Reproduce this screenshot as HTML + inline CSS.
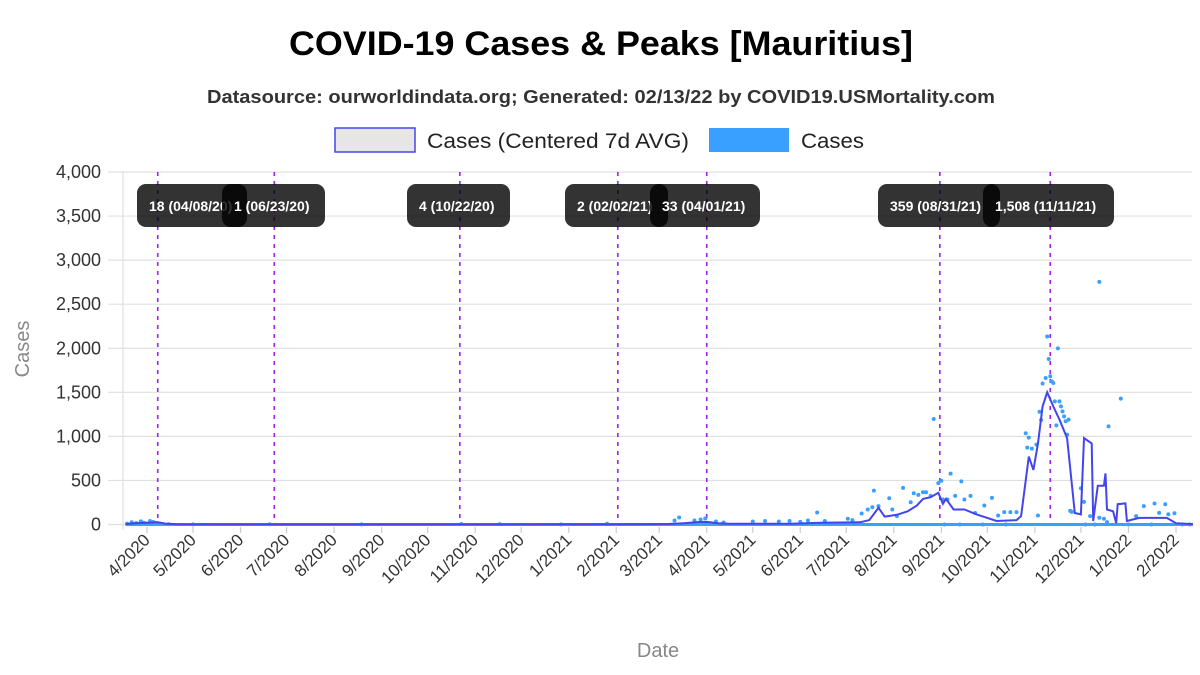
<!DOCTYPE html>
<html><head><meta charset="utf-8"><style>
body{margin:0;background:#fff;font-family:"Liberation Sans",sans-serif}
svg text{font-family:"Liberation Sans",sans-serif}
</style></head><body>
<svg id="chart" width="1200" height="670" viewBox="0 0 1200 670">
<text x="289" y="55" textLength="624" lengthAdjust="spacingAndGlyphs" font-size="34" font-weight="bold" fill="#000">COVID-19 Cases &amp; Peaks [Mauritius]</text>
<text x="207" y="103" textLength="788" lengthAdjust="spacingAndGlyphs" font-size="18" font-weight="bold" fill="#333">Datasource: ourworldindata.org; Generated: 02/13/22 by COVID19.USMortality.com</text>
<g>
<rect x="335" y="128" width="80" height="24" fill="#e6e6e6" stroke="#4444ee" stroke-width="1.5"/>
<text x="427" y="148" textLength="262" lengthAdjust="spacingAndGlyphs" font-size="21" fill="#222">Cases (Centered 7d AVG)</text>
<rect x="709" y="128" width="80" height="24" fill="#3aa0ff"/>
<text x="801" y="148" textLength="63" lengthAdjust="spacingAndGlyphs" font-size="21" fill="#222">Cases</text>
</g>
<g id="grid"></g><g id="axes"></g><g id="peaks"></g><g id="marks"></g><g id="labels"></g>
<text transform="translate(29,349) rotate(-90)" text-anchor="middle" font-size="20" fill="#888">Cases</text>
<text x="658" y="657" text-anchor="middle" font-size="20" fill="#888">Date</text>
</svg>
<script>
const yTicks=[0,500,1000,1500,2000,2500,3000,3500,4000];
const xTickLabels=["4/2020","5/2020","6/2020","7/2020","8/2020","9/2020","10/2020","11/2020","12/2020","1/2021","2/2021","3/2021","4/2021","5/2021","6/2021","7/2021","8/2021","9/2021","10/2021","11/2021","12/2021","1/2022","2/2022"];
const avgDays=[-14,-8,0,7,12,20,60,200,320,340,350,361,366,372,380,420,439,465,471,477,481,489,496,502,506,511,516,519,521,526,533,541,554,567,570,575,578,581,584,587,591,595,600,605,609,611,616,617,620,624,625,626,630,632,633,638,639,647,665,671,682];
const avgVals=[5,15,20,25,10,2,1,1,2,6,15,30,28,15,8,8,20,25,50,190,90,110,150,215,290,310,360,235,290,170,170,115,40,50,95,770,620,920,1340,1500,1340,1190,980,130,115,980,920,40,440,440,580,170,150,15,230,240,40,75,75,15,5];
const caseDays=[-13,-10,-7,-4,-2,2,4,6,8,10,14,30,80,140,205,230,270,300,344,347,357,361,364,371,376,395,403,412,419,426,431,437,442,457,460,466,470,473,474,477,484,486,489,493,498,500,503,506,508,511,513,516,518,519,522,524,527,531,533,537,540,546,551,555,559,563,567,573,575,574,577,580,582,583,581,584,586,587,588,589,590,591,592,594,595,596,597,593,598,599,601,600,609,611,602,603,615,621,624,626,627,635,621,645,650,657,660,664,670,666,520,530,545,560,612,618,640,655,675,680];
const caseVals=[10,25,15,35,20,40,30,18,12,5,3,2,3,2,6,4,2,8,45,80,45,57,68,34,23,34,40,34,40,30,45,136,40,65,50,125,170,196,385,208,298,170,95,415,253,355,336,366,366,325,1197,470,497,283,283,578,325,490,283,325,130,215,302,102,140,140,140,1035,986,872,861,906,1280,1186,102,1600,1663,2133,1878,1682,1624,1605,1397,1999,1397,1341,1284,1125,1227,1171,1190,1020,411,257,155,143,95,76,65,27,1114,1428,2753,95,208,238,132,230,128,117,0,0,0,0,0,0,0,0,0,0];
const peakDays=[7,83,204,307,365,517,589];
const peakLabels=["18 (04/08/20)","1 (06/23/20)","4 (10/22/20)","2 (02/02/21)","33 (04/01/21)","359 (08/31/21)","1,508 (11/11/21)"];
const monthDays=[0,30,61,91,122,153,183,214,244,275,306,334,365,395,426,456,487,518,548,579,609,640,671];
const NS="http://www.w3.org/2000/svg";
const X0=147,PXD=1029/671,Y0=524.5,PXV=352.5/4000;
const xs=d=>X0+d*PXD, ys=v=>Y0-v*PXV;
function mk(tag,attrs,parent,txt){const e=document.createElementNS(NS,tag);for(const k in attrs)e.setAttribute(k,attrs[k]);if(txt!==undefined)e.textContent=txt;document.getElementById(parent).appendChild(e);return e;}
yTicks.forEach(v=>{
 const l=mk('line',{x1:108,x2:1192,y1:ys(v),y2:ys(v),stroke:'#e0e0e0','stroke-width':1.2},'grid');
 
 
 const t=mk('text',{x:101,y:ys(v)+6,'text-anchor':'end','font-size':18,fill:'#333'},'axes',v.toLocaleString('en-US'));
 
 
});
const ax=mk('line',{x1:123,x2:123,y1:172,y2:530,stroke:'#e0e0e0','stroke-width':1.2},'grid');


xTickLabels.forEach((s,i)=>{
 const x=xs(monthDays[i]);
 const tk=mk('line',{x1:x,x2:x,y1:527,y2:533,stroke:'#ccc','stroke-width':1.2},'axes');
 
 
 const t=mk('text',{x:x+4,y:541,'text-anchor':'end','font-size':17,fill:'#333',transform:`rotate(-45 ${x+4} 541)`},'axes',s);
 
 
});
peakDays.forEach(d=>{
 const l=mk('line',{x1:xs(d),x2:xs(d),y1:172,y2:524,stroke:'#a020f0','stroke-width':1.6,'stroke-dasharray':'4,5'},'peaks');
 
 
});
const base=mk('line',{x1:xs(-14),x2:xs(682),y1:Y0,y2:Y0,stroke:'#3aa0ff','stroke-width':3},'marks');


caseDays.forEach((d,i)=>{
 const c=mk('circle',{cx:xs(d),cy:ys(caseVals[i]),r:2,fill:'#3aa0ff'},'marks');
 
 
});
const pts=avgDays.map((d,i)=>xs(d).toFixed(1)+','+ys(avgVals[i]).toFixed(1)).join(' ');
const pl=mk('polyline',{points:pts,fill:'none',stroke:'#4444ee','stroke-width':2},'marks');


const boxX=[137,222,407,565,650,878,983],boxW=[110,103,103,103,110,122,131];
peakLabels.forEach((s,i)=>{
 const r=mk('rect',{x:boxX[i],y:184,width:boxW[i],height:43,rx:9,fill:'rgba(0,0,0,0.8)'},'labels');
 
 
 const t=mk('text',{x:boxX[i]+12,y:211,'font-size':14,'font-weight':'bold',fill:'#fff'},'labels',s);
 
 
});
</script>
</body></html>
